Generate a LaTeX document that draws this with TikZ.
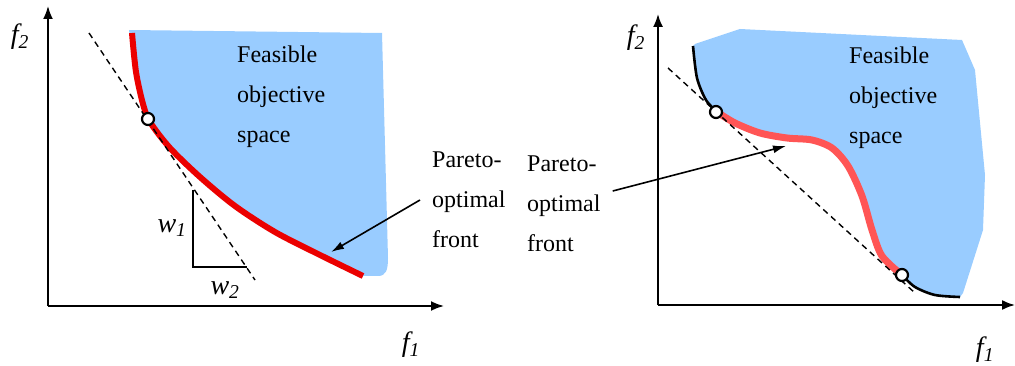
\documentclass[tikz,border=0pt]{standalone}
\usepackage{fontspec}
\setmainfont{Liberation Serif}
\usetikzlibrary{arrows.meta}
\definecolor{feasblue}{RGB}{153,204,255}
\definecolor{frontred}{RGB}{235,0,0}
\definecolor{softred}{RGB}{255,85,85}

\begin{document}
\begin{tikzpicture}[x=1pt, y=-1pt,
  axis/.style={line width=1.8pt, -{Latex[length=13pt, width=10pt]}},
  region/.style={fill=feasblue},
  tangent/.style={dash pattern=on 6pt off 4.5pt, line width=1.4pt},
  optpoint/.style={circle, draw, line width=2.2pt, fill=white,
    minimum size=12pt, inner sep=0pt},
  txt/.style={font=\rmfamily\fontsize{24}{40}\selectfont, align=left,
    inner sep=0pt},
  axlabel/.style={font=\rmfamily\fontsize{28}{30}\selectfont\itshape,
    inner sep=0pt},
  pointer/.style={line width=1.6pt, -{Latex[length=13pt, width=8pt]}}
]
\useasboundingbox (0,0) rectangle (1015,366);

% Left: convex front
\fill[region] plot[smooth] coordinates {(129,30) (136,72) (143,104)
  (150,122) (170,148) (200,177) (235,206) (275,232) (318,254) (363,276)}
  -- (378,276) .. controls (386,276) and (388,270) .. (388,258)
  -- (382,33) -- cycle;
\draw[frontred, line width=6pt] plot[smooth] coordinates {(132,33)
  (136,72) (143,104) (150,122) (170,148) (200,177) (235,206) (275,232)
  (318,254) (363,276)};

% Left: axes
\coordinate (lorig) at (48,306);
\coordinate (ltop) at (48,6);
\coordinate (lright) at (444,306);
\draw[axis] (lorig) -- (ltop);
\draw[axis] (lorig) -- (lright);
\node[axlabel] (lf2) at (20,37) {f\textsubscript{2}};
\node[axlabel] (lf1) at (411,345) {f\textsubscript{1}};

% Left: weighted sum line
\coordinate (ldash1) at (89,33);
\coordinate (ldash2) at (255,280);
\draw[tangent] (ldash1) -- (ldash2);
\node[optpoint] (lopt) at (148,119) {};

% Left: slope triangle
\coordinate (tri1) at (193,190);
\coordinate (tri2) at (193,267);
\coordinate (tri3) at (247,267);
\draw[line width=1.3pt] (tri1) -- (tri2) -- (tri3);
\node[axlabel] (lw1) at (172,228) {w\textsubscript{1}};
\node[axlabel] (lw2) at (225,290) {w\textsubscript{2}};

% Left: labels
\node[txt, anchor=west] (lfeas) at (237,97) {Feasible\\objective\\space};
\node[txt, anchor=west] (lpareto) at (432,200) {Pareto-\\optimal\\front};
\coordinate (lptip) at (331,252);
\draw[pointer] ([xshift=-12pt]lpareto.west) -- (lptip);

% Right: non-convex front
\fill[region] plot[smooth] coordinates {(693,46) (697,78) (706,100)
  (717,112) (735,123) (760,133) (787,138) (812,140) (832,148) (848,166)
  (862,196) (872,230) (882,256) (902,275) (915,287) (935,295) (960,297)}
  -- (963,293) -- (983,230) -- (985,175) -- (975,70) -- (962,40)
  -- (740,29) -- (695,44) -- cycle;
\draw[line width=2.6pt] plot[smooth] coordinates {(693,46) (697,78)
  (706,100) (717,112)};
\draw[softred, line width=7pt] plot[smooth] coordinates {(717,112)
  (735,123) (760,133) (787,138) (812,140) (832,148) (848,166) (862,196)
  (872,230) (882,256) (902,275)};
\draw[line width=2.6pt] plot[smooth] coordinates {(902,275) (915,287)
  (935,295) (960,297)};

% Right: axes
\coordinate (rorig) at (658,305);
\coordinate (rtop) at (658,14);
\coordinate (rright) at (1015,305);
\draw[axis] (rorig) -- (rtop);
\draw[axis] (rorig) -- (rright);
\node[axlabel] (rf2) at (636,38) {f\textsubscript{2}};
\node[axlabel] (rf1) at (985,350) {f\textsubscript{1}};

% Right: tangent line and end points
\coordinate (rdash1) at (668,68);
\coordinate (rdash2) at (915,293);
\draw[tangent] (rdash1) -- (rdash2);
\node[optpoint] (ropt1) at (716,112) {};
\node[optpoint] (ropt2) at (902,275) {};

% Right: labels
\node[txt, anchor=west] (rfeas) at (849,98) {Feasible\\objective\\space};
\node[txt, anchor=west] (rpareto) at (527,204) {Pareto-\\optimal\\front};
\coordinate (rptip) at (786,146);
\draw[pointer] ([shift={(12pt,13pt)}]rpareto.east) -- (rptip);

\end{tikzpicture}
\end{document}
